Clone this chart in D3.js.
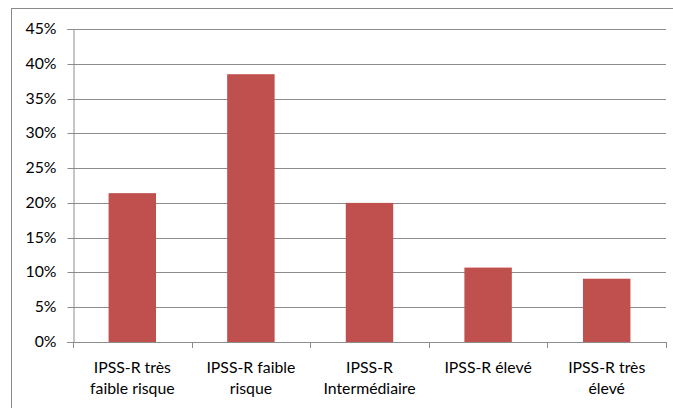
<!DOCTYPE html>
<html><head><meta charset="utf-8">
<script src="https://cdn.jsdelivr.net/npm/d3@7"></script>
<style>body{margin:0;background:#fff}svg{display:block}</style>
</head><body>
<script>
const categories = [["IPSS-R très","faible risque"],["IPSS-R faible","risque"],["IPSS-R","Intermédiaire"],["IPSS-R élevé"],["IPSS-R très","élevé"]];
const values = [21.4, 38.5, 20.0, 10.7, 9.1];
const yTicks = [0,5,10,15,20,25,30,35,40,45];

const W=673,H=408;
const svg=d3.select("body").append("svg").attr("width",W).attr("height",H);
const font="Lato, 'Open Sans', sans-serif";
const fs="15.8px";
svg.append("rect").attr("x",11.5).attr("y",8.5).attr("width",800).attr("height",600)
  .attr("fill","#fff").attr("stroke","#8a8a8a");

const x=d3.scaleBand().domain(d3.range(categories.length)).range([73,666]).paddingInner(0.6).paddingOuter(0.3);
const xb=d3.scaleBand().domain(d3.range(categories.length)).range([73,666]);
const y=d3.scaleLinear().domain([0,45]).range([342,29]);

// gridlines
svg.append("g").selectAll("line").data(yTicks.filter(d=>d>0)).join("line")
  .attr("x1",73).attr("x2",666).attr("y1",d=>Math.round(y(d))+0.5).attr("y2",d=>Math.round(y(d))+0.5)
  .attr("stroke","#8c8c8c");

// bars
svg.append("g").selectAll("rect").data(values).join("rect")
  .attr("x",(d,i)=>x(i)).attr("width",x.bandwidth())
  .attr("y",d=>y(d)).attr("height",d=>y(0)-y(d)).attr("fill","#C0504D");

// y axis
const yAxis=d3.axisLeft(y).tickValues(yTicks).tickFormat(d=>d+"%").tickSize(6).tickPadding(11);
const gy=svg.append("g").attr("transform","translate(73.5,0)").call(yAxis);
gy.selectAll("line,path").attr("stroke","#8c8c8c");
gy.selectAll(".tick").attr("transform",d=>`translate(0,${Math.round(y(d))+0.5})`);
gy.selectAll("text").attr("fill","#000").attr("dy","0.3em").style("font-family",font).style("font-size",fs);

// x axis
svg.append("line").attr("x1",67).attr("x2",666).attr("y1",342.5).attr("y2",342.5).attr("stroke","#8c8c8c");
svg.append("g").selectAll("line").data(d3.range(categories.length+1)).join("line")
  .attr("x1",i=>Math.round(i<categories.length?xb(i):666)+0.5).attr("x2",i=>Math.round(i<categories.length?xb(i):666)+0.5)
  .attr("y1",342).attr("y2",348).attr("stroke","#8c8c8c");
const lab=svg.append("g").selectAll("text").data(categories).join("text")
  .attr("x",(d,i)=>xb(i)+xb.bandwidth()/2).attr("y",373)
  .attr("text-anchor","middle").style("font-family",font).style("font-size",fs).attr("fill","#000");
lab.selectAll("tspan").data(d=>d).join("tspan")
  .attr("x",function(){return this.parentNode.getAttribute("x");})
  .attr("dy",(d,j)=>j===0?0:21).text(d=>d);
</script>
</body></html>
